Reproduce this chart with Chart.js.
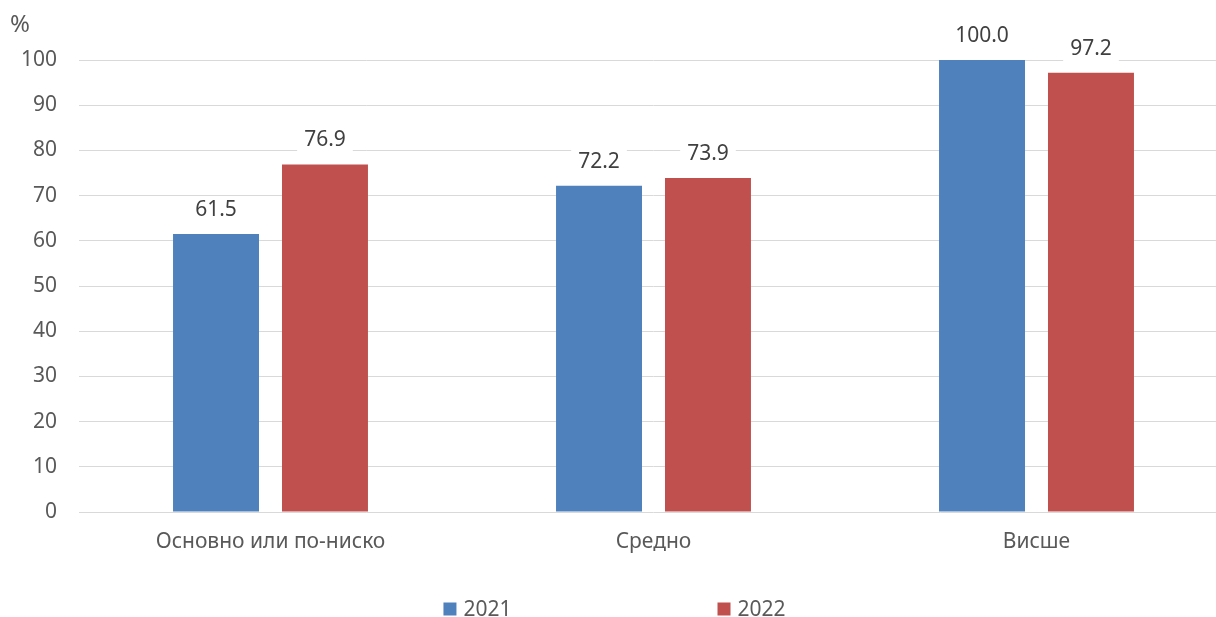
<!DOCTYPE html>
<html>
<head>
<meta charset="utf-8">
<script src="https://cdn.jsdelivr.net/npm/chart.js@4/dist/chart.umd.min.js"></script>
<style>
  html, body { margin: 0; padding: 0; background: #fff; overflow: hidden; }
  #wrap { width: 1229px; height: 617px; position: relative; }
  #unit { position: absolute; left: 10px; top: 11px; font: 24px/24px "Noto Sans", sans-serif; color: #595959; }
</style>
</head>
<body>
<div id="wrap">
  <canvas id="chart" width="1229" height="617"></canvas>
  <div id="unit">%</div>
</div>
<script>
// Categories and series
const categories = ["Основно или по-ниско", "Средно", "Висше"]
const years = ["2021", "2022"]
const values2021 = [61.5, 72.2, 100.0]
const values2022 = [76.9, 73.9, 97.2]
const yTicks = [0, 10, 20, 30, 40, 50, 60, 70, 80, 90, 100]

const barColours = ["#4F81BD", "#C0504D"]
const fontFamily = "'Noto Sans', sans-serif"

// Value labels above each bar, on a white box over the gridlines
const valueLabels = {
  id: "valueLabels",
  afterDatasetsDraw(chart) {
    const ctx = chart.ctx
    ctx.save()
    ctx.font = "21px " + fontFamily
    ctx.textAlign = "center"
    ctx.textBaseline = "middle"
    chart.data.datasets.forEach((ds, i) => {
      chart.getDatasetMeta(i).data.forEach((bar, j) => {
        const text = ds.data[j].toFixed(1)
        const w = ctx.measureText(text).width + 14
        const y = bar.y - 24
        ctx.fillStyle = "#ffffff"
        ctx.fillRect(bar.x - w / 2, y - 14, w, 28)
        ctx.fillStyle = "#404040"
        ctx.fillText(text, bar.x, y)
      })
    })
    ctx.restore()
  }
}

// Legend at the bottom with wide spacing, like the original
const bottomLegend = {
  id: "bottomLegend",
  afterDraw(chart) {
    const ctx = chart.ctx
    ctx.save()
    ctx.font = "21px " + fontFamily
    ctx.textBaseline = "middle"
    const box = 13, gap = 7, between = 206
    const items = chart.data.datasets.map(ds => ({
      label: ds.label,
      colour: ds.backgroundColor,
      w: box + gap + ctx.measureText(ds.label).width
    }))
    const total = items.reduce((s, it) => s + it.w, 0) + between * (items.length - 1)
    let x = chart.width / 2 - total / 2
    const y = 609
    items.forEach(it => {
      ctx.fillStyle = it.colour
      ctx.fillRect(x, y - box / 2, box, box)
      ctx.fillStyle = "#595959"
      ctx.fillText(it.label, x + box + gap, y + 1)
      x += it.w + between
    })
    ctx.restore()
  }
}

new Chart(document.getElementById("chart"), {
  type: "bar",
  plugins: [valueLabels, bottomLegend],
  data: {
    labels: categories,
    datasets: [
      { label: years[0], data: values2021, backgroundColor: barColours[0] },
      { label: years[1], data: values2022, backgroundColor: barColours[1] }
    ]
  },
  options: {
    responsive: false,
    animation: false,
    devicePixelRatio: 1,
    layout: { padding: { top: 60, right: 1, bottom: 0, left: 0 } },
    datasets: { bar: { categoryPercentage: 0.569, barPercentage: 0.789 } },
    plugins: { legend: { display: false }, tooltip: { enabled: false } },
    scales: {
      x: {
        grid: { display: false, drawTicks: false },
        border: { display: false },
        ticks: { color: "#595959", font: { family: fontFamily, size: 21 }, padding: 17 },
        afterFit(scale) { scale.height = 105 }
      },
      y: {
        min: 0,
        max: 100,
        afterBuildTicks(scale) { scale.ticks = yTicks.map(v => ({ value: v })) },
        grid: { color: "#d9d9d9", lineWidth: 1, drawTicks: false },
        border: { display: false },
        ticks: { color: "#595959", font: { family: fontFamily, size: 21 }, padding: 22 },
        afterFit(scale) { scale.width = 79 }
      }
    }
  }
})
</script>
</body>
</html>
